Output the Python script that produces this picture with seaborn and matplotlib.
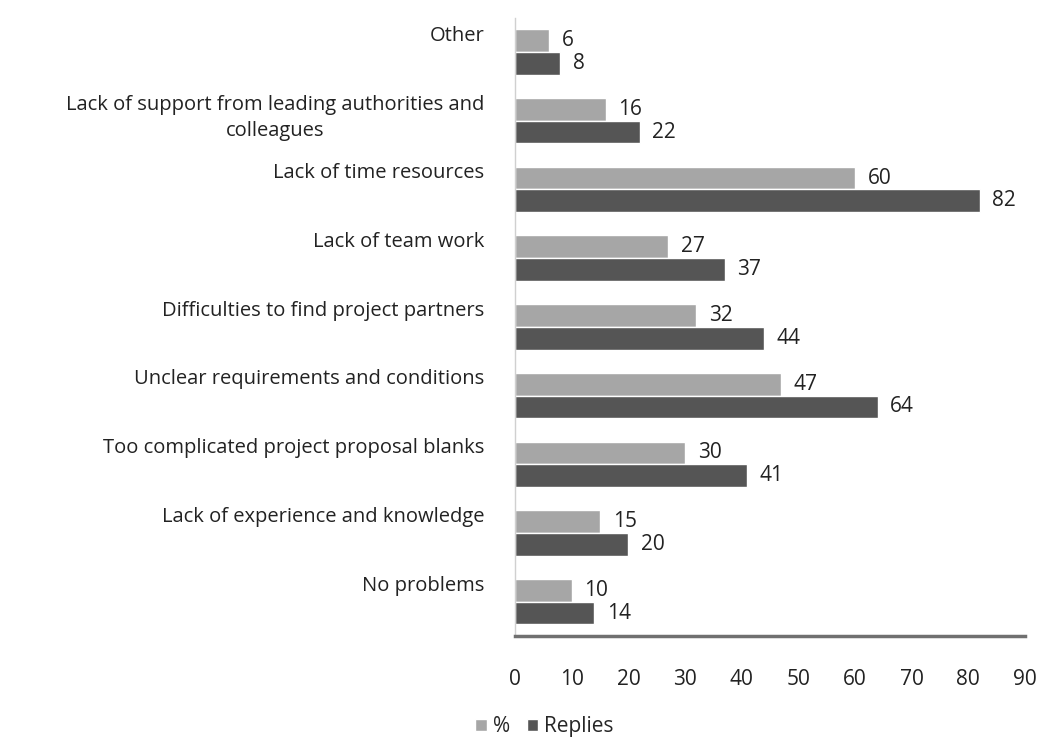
"""Horizontal grouped bars: problems faced when preparing project proposals."""
import matplotlib
matplotlib.use("Agg")
import matplotlib.pyplot as plt
import pandas as pd
import seaborn as sns

CATEGORIES = [
    "Other",
    "Lack of support from leading authorities and\ncolleagues",
    "Lack of time resources",
    "Lack of team work",
    "Difficulties to find project partners",
    "Unclear requirements and conditions",
    "Too complicated project proposal blanks",
    "Lack of experience and knowledge",
    "No problems",
]
PERCENT = [6, 16, 60, 27, 32, 47, 30, 15, 10]
REPLIES = [8, 22, 82, 37, 44, 64, 41, 20, 14]
SERIES = ["%", "Replies"]
COLORS = ["#a6a6a6", "#555555"]

df = pd.DataFrame({
    "category": CATEGORIES * 2,
    "series": [SERIES[0]] * len(CATEGORIES) + [SERIES[1]] * len(CATEGORIES),
    "value": PERCENT + REPLIES,
})

sns.set_style("white")
plt.rcParams["font.family"] = ["Open Sans", "DejaVu Sans"]

fig = plt.figure(figsize=(10.47, 7.37), dpi=100)
ax = fig.add_axes([0.492, 0.137, 0.487, 0.839])

width = 0.66
sns.barplot(data=df, y="category", x="value", hue="series", orient="h",
            palette=COLORS, width=width, saturation=1, ax=ax, legend=True)

for cont in ax.containers:
    ax.bar_label(cont, padding=9, fontsize=15, color="#222222")

ax.set_xlim(0, 90)
ax.set_xticks(range(0, 91, 10))
ax.set_ylim(len(CATEGORIES) - 0.5, -0.5)
ax.set_yticks([i - width / 2 - 0.05 for i in range(len(CATEGORIES))])
ax.set_yticklabels(CATEGORIES, va="top", ha="right", multialignment="center",
                   linespacing=1.45, fontsize=14.5, color="#222222")
ax.set_xlabel("")
ax.set_ylabel("")
ax.tick_params(axis="x", length=0, pad=24, labelsize=15, labelcolor="#222222")
ax.tick_params(axis="y", length=0, pad=22)

for side in ["top", "right"]:
    ax.spines[side].set_visible(False)
ax.spines["left"].set_color("#d0d0d0")
ax.spines["left"].set_linewidth(1)
ax.spines["bottom"].set_color("#707070")
ax.spines["bottom"].set_linewidth(2.5)

handles, labels = ax.get_legend_handles_labels()
ax.get_legend().remove()
fig.legend(handles, labels, loc="lower center", bbox_to_anchor=(0.52, -0.026), ncol=2,
           frameon=False, fontsize=15, handlelength=0.55, handleheight=0.55,
           handletextpad=0.3, columnspacing=0.8)

fig.savefig("out.png", dpi=100)
